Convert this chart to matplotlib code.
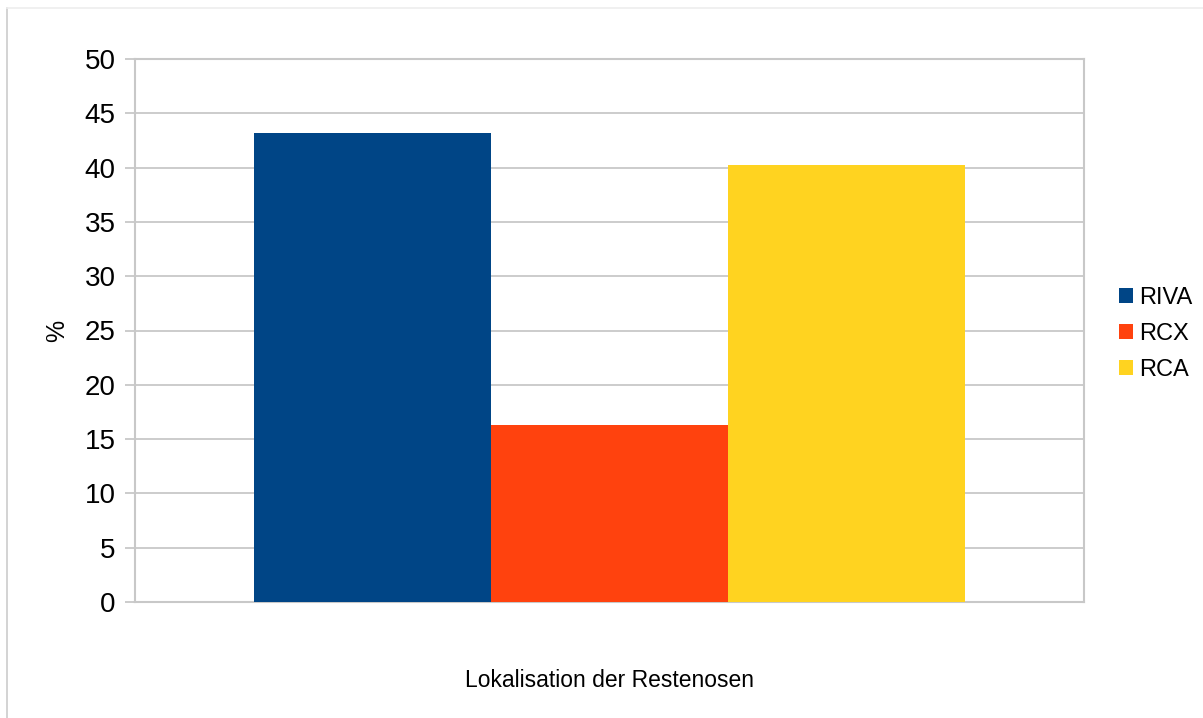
import matplotlib
matplotlib.use("Agg")
import matplotlib.pyplot as plt
from matplotlib.patches import Patch
from matplotlib.lines import Line2D

# === data ===
categories = ["RIVA", "RCX", "RCA"]
values = [43.2, 16.3, 40.2]
colors = ["#004586", "#ff420e", "#ffd320"]
yticks = list(range(0, 55, 5))

plt.rcParams["font.family"] = ["Liberation Sans", "DejaVu Sans"]
GRID = "#c8c8c8"

fig = plt.figure(figsize=(12.03, 7.18), dpi=100)
ax = fig.add_axes([135 / 1203, 1 - 602 / 718, 949 / 1203, 543 / 718])

# bars side by side, no gaps
ax.bar(range(len(categories)), values, width=1.0, color=colors, label=categories, zorder=3)

ax.set_xlim(-1, 3)
ax.set_ylim(0, 50)
ax.set_yticks(yticks)
ax.set_xticks([])
ax.yaxis.grid(True, color=GRID, lw=1.3, zorder=0)
ax.tick_params(axis="y", length=7, width=1.3, color=GRID, labelsize=20, pad=7)
for s in ax.spines.values():
    s.set_color(GRID)
    s.set_linewidth(1.5)

ax.set_ylabel("%", fontsize=18, labelpad=11)
ax.set_xlabel("Lokalisation der Restenosen", fontsize=16.5, labelpad=48)

handles = [Patch(facecolor=c, edgecolor="none") for c in colors]
fig.legend(handles, categories, loc="center left", bbox_to_anchor=(1098 / 1203, 1 - 334 / 718),
           frameon=False, fontsize=17, handlelength=0.6, handleheight=0.6,
           handletextpad=0.25, labelspacing=0.6)

# thin frame lines along the left and top edge
fig.add_artist(Line2D([7 / 1203, 7 / 1203], [0, 1 - 8 / 718], transform=fig.transFigure,
                      color="#cccccc", lw=1.2))
fig.add_artist(Line2D([7 / 1203, 1], [1 - 8 / 718, 1 - 8 / 718], transform=fig.transFigure,
                      color="#eeeeee", lw=1.2))

fig.savefig("out.png", dpi=100)
